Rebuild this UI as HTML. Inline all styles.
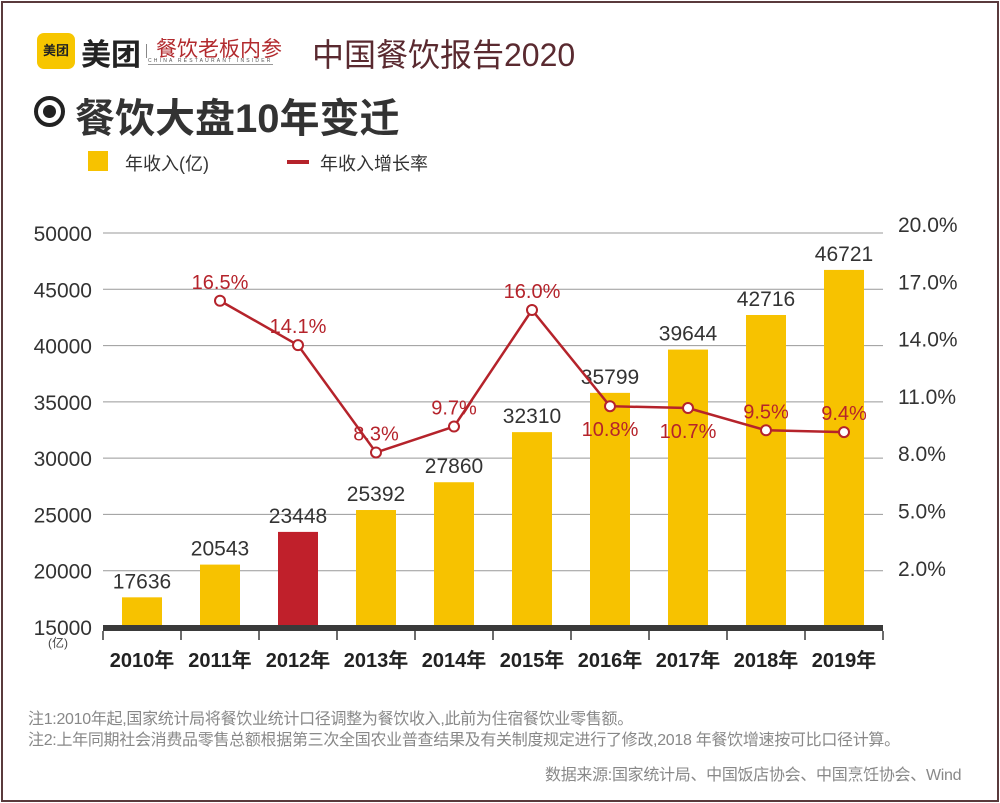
<!DOCTYPE html>
<html><head><meta charset="utf-8"><style>
body{margin:0;background:#fff;}
#wrap{position:relative;width:1000px;height:803px;overflow:hidden;font-family:"Liberation Sans","Noto Sans CJK SC",sans-serif;}
.abs{position:absolute;white-space:nowrap;}
</style></head><body>
<div id="wrap">
<div class="abs" style="left:1px;top:1px;width:994px;height:797px;border:2px solid #5a3a3c;"></div>
<div class="abs" style="left:37px;top:33px;width:38px;height:36px;background:#f7c600;border-radius:7px;font-size:13px;font-weight:bold;line-height:36px;text-align:center;color:#222;">美团</div>
<div class="abs" style="left:81px;top:30px;font-size:30px;font-weight:bold;color:#222;">美团</div>
<div class="abs" style="left:146px;top:44px;width:1px;height:14px;background:#888;"></div>
<div class="abs" style="left:156px;top:33px;font-size:21px;color:#b22a2e;">餐饮老板内参</div>
<div class="abs" style="left:148px;top:58px;font-size:5px;letter-spacing:2.2px;color:#555;border-bottom:1px solid #999;">CHINA RESTAURANT INSIDER</div>
<div class="abs" style="left:312px;top:30px;font-size:32px;color:#5a2a30;">中国餐饮报告2020</div>
<div class="abs" style="left:34px;top:96px;width:23px;height:23px;border:4px solid #222;border-radius:50%;"></div>
<div class="abs" style="left:43px;top:105px;width:13px;height:13px;background:#222;border-radius:50%;"></div>
<div class="abs" style="left:75px;top:86px;font-size:40px;font-weight:bold;color:#333;">餐饮大盘10年变迁</div>
<div class="abs" style="left:88px;top:151px;width:20px;height:20px;background:#f7c200;"></div>
<div class="abs" style="left:125px;top:150px;font-size:18px;color:#333;">年收入(亿)</div>
<div class="abs" style="left:287px;top:160px;width:22px;height:4px;background:#b5232b;"></div>
<div class="abs" style="left:320px;top:150px;font-size:18px;color:#333;">年收入增长率</div>
<svg class="abs" style="left:0;top:0" width="1000" height="803" id="chart"></svg>
<div class="abs" style="left:48px;top:634px;font-size:12px;color:#444;">(亿)</div>
<div class="abs" style="left:28px;top:705px;font-size:16px;color:#888;letter-spacing:-0.3px;">注1:2010年起,国家统计局将餐饮业统计口径调整为餐饮收入,此前为住宿餐饮业零售额。</div>
<div class="abs" style="left:28px;top:726px;font-size:16px;color:#888;letter-spacing:-0.3px;">注2:上年同期社会消费品零售总额根据第三次全国农业普查结果及有关制度规定进行了修改,2018 年餐饮增速按可比口径计算。</div>
<div class="abs" style="left:545px;top:761px;font-size:16px;color:#888;letter-spacing:-0.3px;">数据来源:国家统计局、中国饭店协会、中国烹饪协会、Wind</div>
</div>
<script>
const years=["2010年","2011年","2012年","2013年","2014年","2015年","2016年","2017年","2018年","2019年"];
const revenue=[17636,20543,23448,25392,27860,32310,35799,39644,42716,46721];
const growth=[null,16.5,14.1,8.3,9.7,16.0,10.8,10.7,9.5,9.4];
const leftTicks=[15000,20000,25000,30000,35000,40000,45000,50000];
const rightTicks=[2.0,5.0,8.0,11.0,14.0,17.0,20.0];
const highlight=[2];
const growthLabelBelow=[6,7];
const NS="http://www.w3.org/2000/svg";
const svg=document.getElementById('chart');
const x0=103,step=78,bw=40;
const yL=v=>627-(v-15000)*394/35000;
const yR=v=>606-v*18.5;
const yRt=v=>225+(20-v)*19.1;
const xC=i=>x0+step*i+step/2;
function mk(t,a,txt){const e=document.createElementNS(NS,t);for(const k in a)e.setAttribute(k,a[k]);if(txt!==undefined)e.textContent=txt;svg.appendChild(e);return e;}
leftTicks.forEach(v=>{
 if(v>15000){const g=mk('line',{x1:x0,x2:x0+step*10,y1:yL(v),y2:yL(v),stroke:'#999','stroke-width':1});
 
 }
 const t=mk('text',{x:92,y:yL(v)+8,'text-anchor':'end','font-size':21,fill:'#333'},v);
 
 
});
rightTicks.forEach(v=>{
 const t=mk('text',{x:898,y:yRt(v)+7,'font-size':21,fill:'#333'},v.toFixed(1)+'%');
 
 
});
revenue.forEach((v,i)=>{
 const r=mk('rect',{x:xC(i)-bw/2,y:yL(v),width:bw,height:627-yL(v),fill:highlight.includes(i)?'#c0202b':'#f7c200'});
 
 
 const t=mk('text',{x:xC(i),y:yL(v)-9,'text-anchor':'middle','font-size':21,fill:'#333'},v);
 
 
 const y=mk('text',{x:xC(i),y:667,'text-anchor':'middle','font-size':20,'font-weight':'bold',fill:'#222'},years[i]);
 
 
});
const ax=mk('rect',{x:x0,y:625,width:step*10,height:6,fill:'#3a3a3a'});


for(let i=0;i<=10;i++){const tk=mk('line',{x1:x0+step*i,x2:x0+step*i,y1:631,y2:640,stroke:'#3a3a3a','stroke-width':1.5});
 
 }
let pts=[];growth.forEach((g,i)=>{if(g!==null)pts.push(xC(i)+','+yR(g));});
const pl=mk('polyline',{points:pts.join(' '),fill:'none',stroke:'#b5232b','stroke-width':2.5});


growth.forEach((g,i)=>{if(g===null)return;
 const c=mk('circle',{cx:xC(i),cy:yR(g),r:5,fill:'#fff',stroke:'#b5232b','stroke-width':2});
 
 
 const below=growthLabelBelow.includes(i);
 const t=mk('text',{x:xC(i),y:below?yR(g)+30:yR(g)-12,'text-anchor':'middle','font-size':20,fill:'#b5232b'},g.toFixed(1)+'%');
 
 
});
</script>
</body></html>
